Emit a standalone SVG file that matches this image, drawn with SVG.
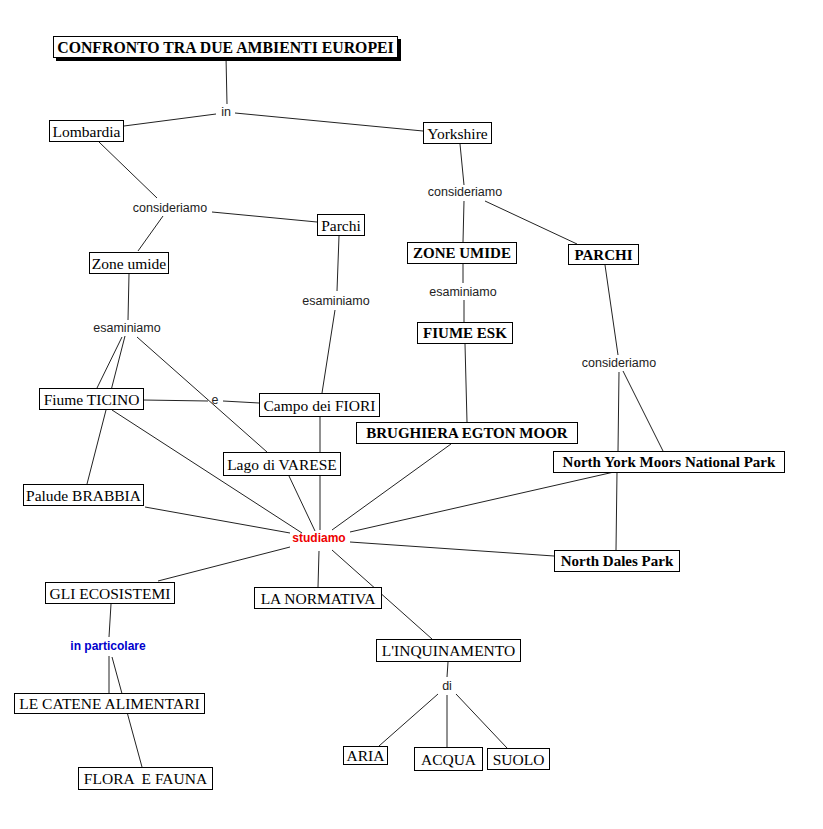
<svg xmlns="http://www.w3.org/2000/svg" width="823" height="829" viewBox="0 0 823 829">
<style>
.bg{fill:#fff}
.n rect{fill:#fff;stroke:#000;stroke-width:1}
.n text{font-family:"Liberation Serif","Times New Roman",serif;font-size:15.5px;fill:#000;text-anchor:middle;dominant-baseline:central}
.b text{font-weight:bold;font-size:15px}
.lbl{font-family:"Liberation Sans",Arial,sans-serif;font-size:12.5px;fill:#222;text-anchor:middle;dominant-baseline:central}
#links line{stroke:#222;stroke-width:1;fill:none}
</style>
<rect class="bg" x="0" y="0" width="823" height="829"/>
<g id="links">
<line x1="226" y1="57" x2="227" y2="104"/>
<line x1="216" y1="114" x2="124" y2="126"/>
<line x1="235" y1="113" x2="423" y2="131"/>
<line x1="99" y1="142" x2="157" y2="198"/>
<line x1="212" y1="212" x2="317" y2="222"/>
<line x1="163" y1="216" x2="138" y2="251"/>
<line x1="129" y1="274" x2="128" y2="320"/>
<line x1="122" y1="337" x2="97" y2="388"/>
<line x1="125" y1="336" x2="87" y2="484"/>
<line x1="137" y1="337" x2="267" y2="452"/>
<line x1="143" y1="400" x2="208" y2="401"/>
<line x1="223" y1="401" x2="259" y2="403"/>
<line x1="339" y1="236" x2="337" y2="291"/>
<line x1="335" y1="310" x2="322" y2="393"/>
<line x1="112" y1="410" x2="302" y2="533"/>
<line x1="145" y1="507" x2="290" y2="533"/>
<line x1="320" y1="417" x2="320" y2="530"/>
<line x1="289" y1="476" x2="315" y2="531"/>
<line x1="451" y1="444" x2="332" y2="530"/>
<line x1="614" y1="472" x2="350" y2="532"/>
<line x1="350" y1="542" x2="554" y2="556"/>
<line x1="617" y1="472" x2="616" y2="550"/>
<line x1="290" y1="547" x2="158" y2="581"/>
<line x1="319" y1="551" x2="318" y2="587"/>
<line x1="332" y1="550" x2="432" y2="639"/>
<line x1="460" y1="144" x2="464" y2="185"/>
<line x1="464" y1="201" x2="463" y2="242"/>
<line x1="485" y1="201" x2="577" y2="244"/>
<line x1="463" y1="264" x2="463" y2="283"/>
<line x1="464" y1="300" x2="464" y2="322"/>
<line x1="465" y1="344" x2="467" y2="422"/>
<line x1="605" y1="265" x2="618" y2="355"/>
<line x1="619" y1="372" x2="618" y2="451"/>
<line x1="623" y1="371" x2="663" y2="451"/>
<line x1="111" y1="604" x2="109" y2="637"/>
<line x1="109" y1="656" x2="109" y2="693"/>
<line x1="112" y1="657" x2="142" y2="767"/>
<line x1="448" y1="662" x2="447" y2="677"/>
<line x1="438" y1="694" x2="379" y2="746"/>
<line x1="447" y1="695" x2="447" y2="747"/>
<line x1="456" y1="694" x2="507" y2="748"/>
</g>
<g id="labels">
<text class="lbl" x="226" y="112">in</text>
<text class="lbl" x="170" y="208">consideriamo</text>
<text class="lbl" x="465" y="192">consideriamo</text>
<text class="lbl" x="127" y="328">esaminiamo</text>
<text class="lbl" x="336" y="301">esaminiamo</text>
<text class="lbl" x="463" y="292">esaminiamo</text>
<text class="lbl" x="619" y="363">consideriamo</text>
<text class="lbl" x="215" y="400">e</text>
<text class="lbl" x="319" y="538" style="fill:#ee0000;font-weight:bold;font-size:12px">studiamo</text>
<text class="lbl" x="108" y="646" style="fill:#0000cc;font-weight:bold;font-size:12px">in particolare</text>
<text class="lbl" x="447" y="686">di</text>
</g>
<g id="title" class="n b">
<rect x="56.5" y="39.5" width="344" height="21" style="fill:#000"/>
<rect x="53.5" y="36.5" width="344" height="21"/>
<text x="225.5" y="47" style="font-size:15.8px">CONFRONTO TRA DUE AMBIENTI EUROPEI</text>
</g>
<g id="lombardia" class="n"><rect x="49.5" y="120.5" width="74" height="21"/><text x="86.5" y="131">Lombardia</text></g>
<g id="yorkshire" class="n"><rect x="423.5" y="122.5" width="68" height="21"/><text x="457.5" y="133">Yorkshire</text></g>
<g id="parchi" class="n"><rect x="317.5" y="214.5" width="47" height="21"/><text x="341" y="225">Parchi</text></g>
<g id="zone-umide" class="n"><rect x="89.5" y="252.5" width="79" height="21"/><text x="129" y="263">Zone umide</text></g>
<g id="zone-umide-uk" class="n b"><rect x="407.5" y="242.5" width="109" height="21"/><text x="462" y="253">ZONE UMIDE</text></g>
<g id="parchi-uk" class="n b"><rect x="568.5" y="244.5" width="70" height="20"/><text x="603.5" y="254.5">PARCHI</text></g>
<g id="fiume-esk" class="n b"><rect x="417.5" y="322.5" width="95" height="21"/><text x="465" y="333">FIUME ESK</text></g>
<g id="fiume-ticino" class="n"><rect x="39.5" y="388.5" width="104" height="21"/><text x="91.5" y="399">Fiume TICINO</text></g>
<g id="campo-fiori" class="n"><rect x="259.5" y="393.5" width="120" height="23"/><text x="319.5" y="405">Campo dei FIORI</text></g>
<g id="lago-varese" class="n"><rect x="223.5" y="452.5" width="117" height="23"/><text x="282" y="464">Lago di VARESE</text></g>
<g id="palude-brabbia" class="n"><rect x="23.5" y="484.5" width="120" height="21"/><text x="83.5" y="495">Palude BRABBIA</text></g>
<g id="brughiera" class="n b"><rect x="356.5" y="422.5" width="221" height="21"/><text x="467" y="433">BRUGHIERA EGTON MOOR</text></g>
<g id="nymnp" class="n b"><rect x="553.5" y="451.5" width="231" height="21"/><text x="669" y="462">North York Moors National Park</text></g>
<g id="north-dales" class="n b"><rect x="554.5" y="550.5" width="125" height="21"/><text x="617" y="561">North Dales Park</text></g>
<g id="ecosistemi" class="n"><rect x="45.5" y="582.5" width="129" height="21"/><text x="110" y="593">GLI ECOSISTEMI</text></g>
<g id="normativa" class="n"><rect x="254.5" y="587.5" width="127" height="21"/><text x="318" y="598">LA NORMATIVA</text></g>
<g id="inquinamento" class="n"><rect x="376.5" y="639.5" width="144" height="22"/><text x="448.5" y="650.5">L'INQUINAMENTO</text></g>
<g id="catene" class="n"><rect x="14.5" y="693.5" width="190" height="20"/><text x="109.5" y="703.5">LE CATENE ALIMENTARI</text></g>
<g id="flora-fauna" class="n"><rect x="78.5" y="767.5" width="134" height="22"/><text x="145.5" y="778.5" style="white-space:pre">FLORA  E FAUNA</text></g>
<g id="aria" class="n"><rect x="343.5" y="746.5" width="44" height="18"/><text x="365.5" y="755.5">ARIA</text></g>
<g id="acqua" class="n"><rect x="414.5" y="747.5" width="68" height="23"/><text x="448.5" y="759">ACQUA</text></g>
<g id="suolo" class="n"><rect x="487.5" y="748.5" width="62" height="21"/><text x="518.5" y="759">SUOLO</text></g>
</svg>
